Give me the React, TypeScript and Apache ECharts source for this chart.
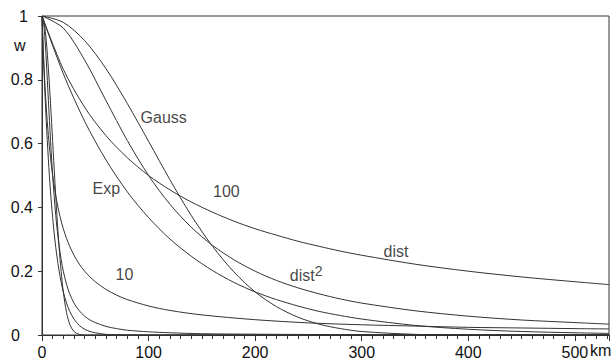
import React, { useEffect, useRef } from "react";
import * as echarts from "echarts";

// distances (km) for the two families of weight curves
const xR100 = [0, 20, 40, 60, 80, 100, 120, 140, 160, 180, 200, 220, 240, 260, 280, 300, 350, 400, 450, 500, 532];
const gauss100 = [1, 0.98, 0.923, 0.835, 0.726, 0.607, 0.487, 0.375, 0.278, 0.198, 0.135, 0.089, 0.056, 0.034, 0.02, 0.011, 0.002, 0, 0, 0, 0];
const exp100 = [1, 0.819, 0.67, 0.549, 0.449, 0.368, 0.301, 0.247, 0.202, 0.165, 0.135, 0.111, 0.091, 0.074, 0.061, 0.05, 0.03, 0.018, 0.011, 0.007, 0.005];
const dist100 = [1, 0.833, 0.714, 0.625, 0.556, 0.5, 0.455, 0.417, 0.385, 0.357, 0.333, 0.313, 0.294, 0.278, 0.263, 0.25, 0.222, 0.2, 0.182, 0.167, 0.158];
const distSq100 = [1, 0.962, 0.862, 0.735, 0.61, 0.5, 0.41, 0.338, 0.281, 0.236, 0.2, 0.171, 0.148, 0.129, 0.113, 0.1, 0.076, 0.059, 0.047, 0.039, 0.034];

const xR10 = [0, 2, 4, 6, 8, 10, 12, 14, 16, 18, 20, 23, 26, 30, 35, 40, 45, 50, 60, 70, 80, 100, 120, 150, 200, 250, 300, 350, 400, 450, 500, 532];
const gauss10 = [1, 0.98, 0.923, 0.835, 0.726, 0.607, 0.487, 0.375, 0.278, 0.198, 0.135, 0.071, 0.034, 0.011, 0.002, 0, 0, 0, 0, 0, 0, 0, 0, 0, 0, 0, 0, 0, 0, 0, 0, 0];
const exp10 = [1, 0.819, 0.67, 0.549, 0.449, 0.368, 0.301, 0.247, 0.202, 0.165, 0.135, 0.1, 0.074, 0.05, 0.03, 0.018, 0.011, 0.007, 0.002, 0.001, 0, 0, 0, 0, 0, 0, 0, 0, 0, 0, 0, 0];
const dist10 = [1, 0.833, 0.714, 0.625, 0.556, 0.5, 0.455, 0.417, 0.385, 0.357, 0.333, 0.303, 0.278, 0.25, 0.222, 0.2, 0.182, 0.167, 0.143, 0.125, 0.111, 0.091, 0.077, 0.063, 0.048, 0.038, 0.032, 0.028, 0.024, 0.022, 0.02, 0.019];
const distSq10 = [1, 0.962, 0.862, 0.735, 0.61, 0.5, 0.41, 0.338, 0.281, 0.236, 0.2, 0.159, 0.129, 0.1, 0.076, 0.059, 0.047, 0.039, 0.027, 0.02, 0.015, 0.01, 0.007, 0.004, 0.0025, 0.0016, 0.0011, 0.0008, 0.0006, 0.0005, 0.0004, 0.0004];

// curve annotations (text, distance, weight)
const labelTexts = ["Gauss", "Exp", "100", "10", "dist", "dist2"];
const labelX = [92, 47, 160, 68.5, 320, 232];
const labelY = [0.683, 0.46, 0.45, 0.191, 0.263, 0.187];

const yTicks = [0, 0.2, 0.4, 0.6, 0.8, 1];

const FONT = "Liberation Sans, Arial, Helvetica, sans-serif";
const LINE = "#333";

function pairs(xs: number[], ys: number[]) {
  return xs.map((x, i) => [x, ys[i]]);
}

export default function App() {
  const ref = useRef<HTMLDivElement>(null);
  useEffect(() => {
    if (!ref.current) return;
    const chart = echarts.init(ref.current, null, { renderer: "svg" });
    const curves: [number[], number[]][] = [
      [xR100, gauss100],
      [xR100, exp100],
      [xR100, dist100],
      [xR100, distSq100],
      [xR10, gauss10],
      [xR10, exp10],
      [xR10, dist10],
      [xR10, distSq10],
    ];
    const lineSeries = curves.map(([xs, ys]) => ({
      type: "line",
      data: pairs(xs, ys),
      showSymbol: false,
      smooth: 0.3,
      lineStyle: { color: LINE, width: 1 },
      silent: true,
      z: 2,
    }));
    const labelSeries = {
      type: "scatter",
      symbolSize: 1,
      itemStyle: { color: "rgba(0,0,0,0)" },
      data: labelTexts.map((t, i) => ({ value: [labelX[i], labelY[i]], name: t })),
      label: {
        show: true,
        position: "right",
        distance: 0,
        align: "left",
        verticalAlign: "middle",
        color: "#111",
        fontFamily: FONT,
        fontSize: 16,
        formatter: (p: any) => (p.name === "dist2" ? "{b|dist}{s|2}" : p.name),
        rich: {
          b: { fontSize: 16, fontFamily: FONT, color: "#111", lineHeight: 22 },
          s: { fontSize: 14, fontFamily: FONT, color: "#111", lineHeight: 14, verticalAlign: "top" },
        },
      },
      z: 5,
    };
    const option: any = {
      animation: false,
      backgroundColor: "#fff",
      grid: {
        left: 42,
        right: 4,
        top: 16,
        bottom: 25,
        show: true,
        borderColor: LINE,
        borderWidth: 1,
      },
      xAxis: [
        {
          type: "value",
          min: 0,
          max: 532,
          interval: 10,
          axisLine: { show: true, lineStyle: { color: LINE, width: 1 } },
          axisTick: { show: true, length: 4, lineStyle: { color: LINE } },
          splitLine: { show: false },
          axisLabel: {
            fontSize: 16,
            fontFamily: FONT,
            color: "#111",
            margin: 9,
            showMaxLabel: false,
            formatter: (v: number) => (v % 100 === 0 ? String(v) : ""),
          },
        },
        {
          type: "value",
          min: 0,
          max: 532,
          interval: 100,
          position: "bottom",
          axisLine: { show: false },
          axisTick: { show: true, length: 6, lineStyle: { color: LINE } },
          splitLine: { show: false },
          axisLabel: { show: false },
        },
      ],
      yAxis: {
        type: "value",
        min: 0,
        max: 1,
        interval: 0.2,
        axisLine: { show: true, lineStyle: { color: LINE, width: 1 } },
        axisTick: { show: true, length: 4, lineStyle: { color: LINE } },
        splitLine: { show: false },
        axisLabel: {
          fontSize: 16,
          fontFamily: FONT,
          color: "#111",
          margin: 9,
          formatter: (v: number) => {
            const t = yTicks.find((k) => Math.abs(k - v) < 1e-9);
            if (t === 0) return "{z|0}";
            if (t === 1) return "{o|1}";
            return String(Math.round(v * 10) / 10);
          },
          rich: {
            z: { fontSize: 16, fontFamily: FONT, color: "#111", padding: [0, 13, 0, 0] },
            o: { fontSize: 16, fontFamily: FONT, color: "#111", padding: [0, 5, 0, 0] },
          },
        },
      },
      graphic: [
        {
          type: "text",
          left: 14,
          top: 37,
          style: { text: "w", fontSize: 16, fontFamily: FONT, fill: "#111" },
        },
        {
          type: "text",
          left: 590,
          top: 342,
          style: { text: "km", fontSize: 16, fontFamily: FONT, fill: "#111" },
        },
      ],
      series: [...lineSeries, labelSeries],
    };
    chart.setOption(option);
    return () => chart.dispose();
  }, []);
  return (
    <div
      ref={ref}
      style={{ position: "fixed", left: 0, top: 0, width: 613, height: 360, background: "#fff" }}
    />
  );
}
